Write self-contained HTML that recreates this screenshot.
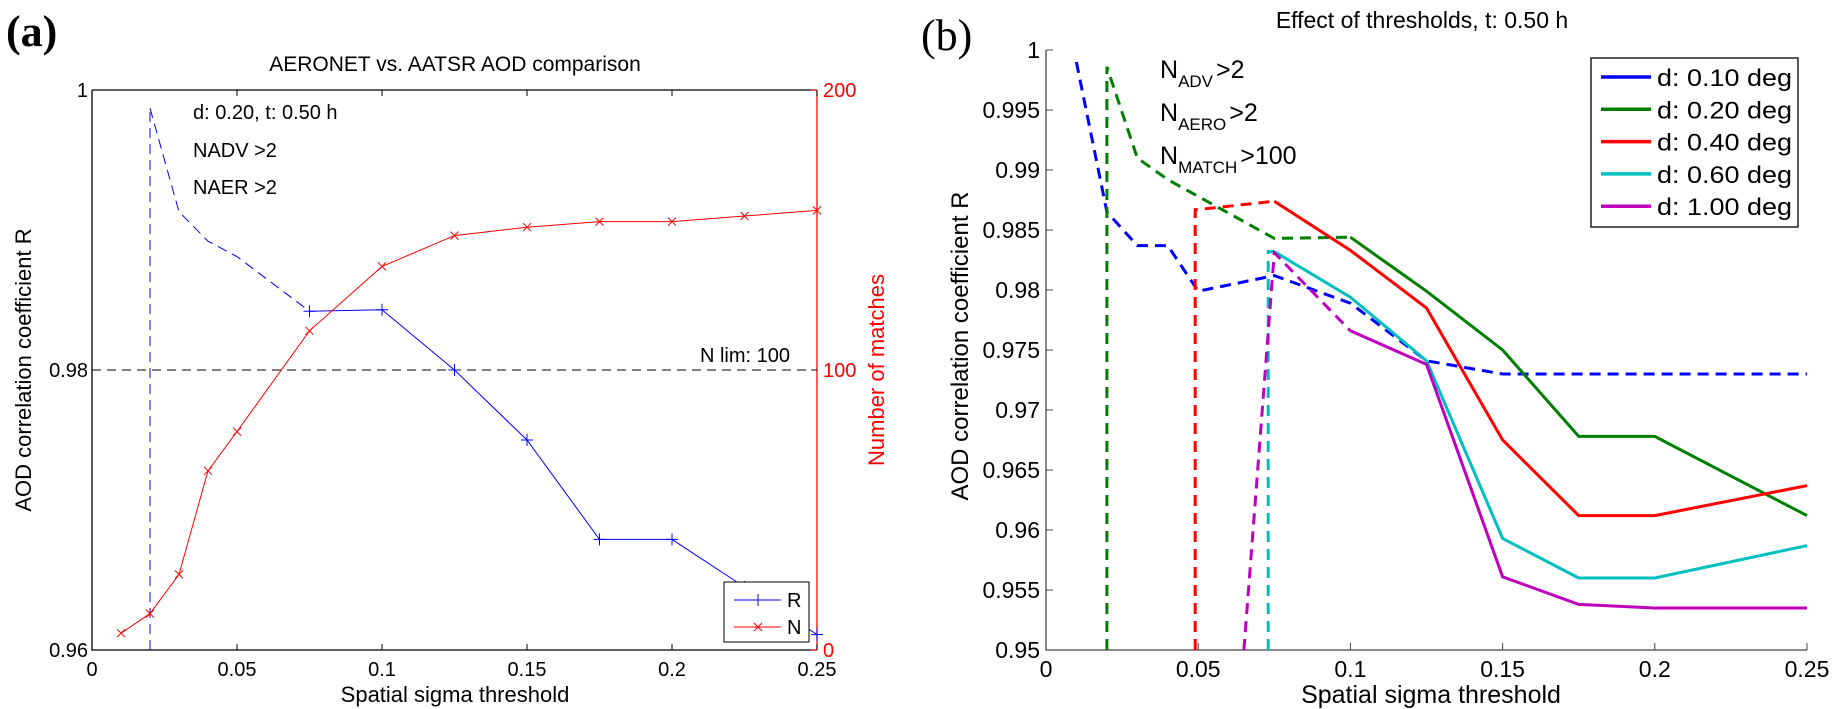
<!DOCTYPE html>
<html><head><meta charset="utf-8"><style>
html,body{margin:0;padding:0;background:#fff;}
svg{display:block;font-family:"Liberation Sans",sans-serif;}
</style></head><body>
<svg id="fig" width="1835" height="709" viewBox="0 0 1835 709" xmlns="http://www.w3.org/2000/svg">
<g id="pa"></g>
<g id="pb"></g>
</svg>
<script>
// ---- Panel (a) data ----
const aX = [0.01,0.02,0.03,0.04,0.05,0.075,0.1,0.125,0.15,0.175,0.2,0.225,0.25];
const aRdash = [null,0.9987,0.9913,0.9892,0.9881,0.9842,null,null,null,null,null,null,null];
const aRsolid = [null,null,null,null,null,0.9842,0.9843,0.9800,0.9750,0.9679,0.9679,0.9645,0.9611];
const aN = [6,13,27,64,78,114,137,148,151,153,153,155,157];
const aXTicks = [0,0.05,0.1,0.15,0.2,0.25];
const aXTickLabels = ["0","0.05","0.1","0.15","0.2","0.25"];
const aYTicks = [0.96,0.98,1];
const aYTickLabels = ["0.96","0.98","1"];
const aNTicks = [0,100,200];
const aNTickLabels = ["0","100","200"];
const aVertX = 0.02;
const aNlim = 100;

// ---- Panel (b) data ----
const bX = [0.01,0.02,0.03,0.04,0.05,0.075,0.1,0.125,0.15,0.175,0.2,0.25];
const bNames = ["d: 0.10 deg","d: 0.20 deg","d: 0.40 deg","d: 0.60 deg","d: 1.00 deg"];
const bD010 = [0.9990,0.9865,0.9837,0.9837,0.9799,0.9812,0.9789,0.9741,0.9730,0.9730,0.9730,0.9730];
const bD020 = [null,0.9986,0.9910,0.9892,0.9878,0.9843,0.9844,0.9799,0.9750,0.9678,0.9678,0.9612];
const bD040 = [null,null,null,null,0.9867,0.9874,0.9833,0.9785,0.9675,0.9612,0.9612,0.9637];
const bD060 = [null,null,null,null,null,0.9832,0.9794,0.9741,0.9593,0.9560,0.9560,0.9587];
const bD100 = [null,null,null,null,null,0.9831,0.9766,0.9738,0.9561,0.9538,0.9535,0.9535];
// x position where series first appears from bottom axis
const bStartX = [null,0.02,0.049,0.073,0.065];
// whether the rise from bottom is vertical (true) or diagonal (false)
const bVertical = [false,true,true,true,false];
// number of leading points drawn dashed (N_MATCH <= 100)
const bDashCount = [12,6,2,1,2];
const bXTicks = [0,0.05,0.1,0.15,0.2,0.25];
const bXTickLabels = ["0","0.05","0.1","0.15","0.2","0.25"];
const bYTicks = [0.95,0.955,0.96,0.965,0.97,0.975,0.98,0.985,0.99,0.995,1];
const bYTickLabels = ["0.95","0.955","0.96","0.965","0.97","0.975","0.98","0.985","0.99","0.995","1"];
const bColors = ["#0000ff","#007f00","#ff0000","#00bfbf","#bf00bf"];

const NS="http://www.w3.org/2000/svg";
function mk(parent,tag,attrs,text){const e=document.createElementNS(NS,tag);for(const k in attrs)e.setAttribute(k,attrs[k]);if(text!==undefined)e.textContent=text;parent.appendChild(e);return e;}

// ===== Panel A =====
const pa=document.getElementById('pa');
const aL=92,aR=817,aT=90,aB=650;
const ax=v=>aL+(v-0)/0.25*(aR-aL);
const ay=v=>aB-(v-0.96)/0.04*(aB-aT);
const an=v=>aB-v/200*(aB-aT);

let t=mk(pa,'text',{x:6,y:46,'font-family':'Liberation Serif, serif','font-size':44,'font-weight':'bold'},'(a)');


t=mk(pa,'text',{x:455,y:71,'font-size':21,'text-anchor':'middle'},'AERONET vs. AATSR AOD comparison');



let box=mk(pa,'path',{d:`M${aL},${aT}H${aR}M${aL},${aT}V${aB}H${aR}`,stroke:'#000','stroke-width':1.3,fill:'none'});


let rax=mk(pa,'line',{x1:aR,y1:aT,x2:aR,y2:aB,stroke:'#ff0000','stroke-width':1.3});



aXTicks.forEach((v,i)=>{
  mk(pa,'line',{x1:ax(v),y1:aB,x2:ax(v),y2:aB-6,stroke:'#000'});
  mk(pa,'line',{x1:ax(v),y1:aT,x2:ax(v),y2:aT+6,stroke:'#000'});
  const l=mk(pa,'text',{x:ax(v),y:676,'font-size':20,'text-anchor':'middle'},aXTickLabels[i]);
  
  
});
aYTicks.forEach((v,i)=>{
  mk(pa,'line',{x1:aL,y1:ay(v),x2:aL+6,y2:ay(v),stroke:'#000'});
  const l=mk(pa,'text',{x:aL-4,y:ay(v)+7,'font-size':20,'text-anchor':'end'},aYTickLabels[i]);
  
  
});
aNTicks.forEach((v,i)=>{
  mk(pa,'line',{x1:aR,y1:an(v),x2:aR-6,y2:an(v),stroke:'#ff0000'});
  const l=mk(pa,'text',{x:aR+6,y:an(v)+7,'font-size':20,fill:'#ff0000'},aNTickLabels[i]);
  
  
});
t=mk(pa,'text',{x:455,y:702,'font-size':22,'text-anchor':'middle'},'Spatial sigma threshold');


t=mk(pa,'text',{x:0,y:0,'font-size':22,'text-anchor':'middle',transform:`translate(31,370) rotate(-90)`},'AOD correlation coefficient R');


t=mk(pa,'text',{x:0,y:0,'font-size':22,'text-anchor':'middle',fill:'#ff0000',transform:`translate(884,370) rotate(-90)`},'Number of matches');



let nl=mk(pa,'line',{x1:aL,y1:an(aNlim),x2:aR,y2:an(aNlim),stroke:'#000','stroke-dasharray':'9,6','stroke-width':1});


t=mk(pa,'text',{x:790,y:362,'font-size':20,'text-anchor':'end'},'N lim: '+aNlim);



[['d: 0.20, t: 0.50 h',119],['NADV >2',157],['NAER >2',194]].forEach(([s,y])=>{
  const e=mk(pa,'text',{x:193,y:y,'font-size':20},s);
  
  
});

let vl=mk(pa,'line',{x1:ax(aVertX),y1:aB,x2:ax(aVertX),y2:ay(aRdash[1]),stroke:'#0000ff','stroke-dasharray':'10,6','stroke-width':1});


function pathFrom(xs,ys,fx,fy){let d='';xs.forEach((x,i)=>{if(ys[i]==null)return;d+=(d?'L':'M')+fx(x).toFixed(1)+','+fy(ys[i]).toFixed(1);});return d;}
let rd=mk(pa,'path',{d:pathFrom(aX,aRdash,ax,ay),stroke:'#0000ff','stroke-dasharray':'10,6',fill:'none','stroke-width':1});


let rs=mk(pa,'path',{d:pathFrom(aX,aRsolid,ax,ay),stroke:'#0000ff',fill:'none','stroke-width':1});


aX.forEach((x,i)=>{const y=aRsolid[i];if(y==null)return;const cx=ax(x),cy=ay(y);
  const m=mk(pa,'path',{d:`M${cx-6},${cy}H${cx+6}M${cx},${cy-6}V${cy+6}`,stroke:'#0000ff','stroke-width':1});
  
  });
let np=mk(pa,'path',{d:pathFrom(aX,aN,ax,an),stroke:'#ff0000',fill:'none','stroke-width':1});


aX.forEach((x,i)=>{const cx=ax(x),cy=an(aN[i]);
  const m=mk(pa,'path',{d:`M${cx-4},${cy-4}L${cx+4},${cy+4}M${cx-4},${cy+4}L${cx+4},${cy-4}`,stroke:'#ff0000','stroke-width':1});
  
  });

const lga=mk(pa,'g',{});


mk(lga,'rect',{x:724,y:582,width:85,height:60,fill:'#fff',stroke:'#000','stroke-width':1});
mk(lga,'line',{x1:734,y1:600,x2:781,y2:600,stroke:'#0000ff'});
mk(lga,'path',{d:'M752,600H764M758,594V606',stroke:'#0000ff'});
t=mk(lga,'text',{x:787,y:607,'font-size':20},'R');


mk(lga,'line',{x1:734,y1:627,x2:781,y2:627,stroke:'#ff0000'});
mk(lga,'path',{d:'M754,623L762,631M754,631L762,623',stroke:'#ff0000'});
t=mk(lga,'text',{x:787,y:634,'font-size':20},'N');



// ===== Panel B =====
const pb=document.getElementById('pb');
const bL=1046,bR=1807,bT=50,bB=650;
const bx=v=>bL+v/0.25*(bR-bL);
const by=v=>bB-(v-0.95)/0.05*(bB-bT);
t=mk(pb,'text',{x:921,y:50,'font-family':'Liberation Serif, serif','font-size':44},'(b)');


t=mk(pb,'text',{x:1422,y:28,'font-size':23,'text-anchor':'middle'},'Effect of thresholds, t: 0.50 h');


let bax=mk(pb,'path',{d:`M${bL},${bT}V${bB}H${bR}`,stroke:'#444','stroke-width':1.3,fill:'none'});


bXTicks.forEach((v,i)=>{
  mk(pb,'line',{x1:bx(v),y1:bB,x2:bx(v),y2:bB-7,stroke:'#444'});
  const l=mk(pb,'text',{x:bx(v),y:677,'font-size':23,'text-anchor':'middle'},bXTickLabels[i]);
  
  
});
bYTicks.forEach((v,i)=>{
  mk(pb,'line',{x1:bL,y1:by(v),x2:bL+7,y2:by(v),stroke:'#444'});
  const l=mk(pb,'text',{x:bL-6,y:by(v)+8,'font-size':23,'text-anchor':'end'},bYTickLabels[i]);
  
  
});
t=mk(pb,'text',{x:1431,y:703,'font-size':25,'text-anchor':'middle'},'Spatial sigma threshold');


t=mk(pb,'text',{x:0,y:0,'font-size':24,'text-anchor':'middle',transform:`translate(968,346) rotate(-90)`},'AOD correlation coefficient R');


[['ADV','>2',78],['AERO','>2',121],['MATCH','>100',164]].forEach(([sub,rest,y])=>{
  const e=mk(pb,'text',{x:1160,y:y,'font-size':25});
  
  
  mk(e,'tspan',{},'N');
  mk(e,'tspan',{dy:9,'font-size':17},sub);
  mk(e,'tspan',{dy:-9,dx:3},rest);
});
const bSeries=[bD010,bD020,bD040,bD060,bD100];
bSeries.forEach((ys,si)=>{
  const g=mk(pb,'g',{});
  
  
  const first=ys.findIndex(v=>v!=null);
  let dpts=[];
  if(bStartX[si]!=null){
    dpts.push([bx(bStartX[si]),bB]);
    if(bVertical[si]) dpts.push([bx(bStartX[si]),by(ys[first])]);
  }
  for(let i=first;i<first+bDashCount[si]&&i<ys.length;i++) dpts.push([bx(bX[i]),by(ys[i])]);
  const lastDash=first+bDashCount[si]-1;
  const dd='M'+dpts.map(p=>p[0].toFixed(1)+','+p[1].toFixed(1)).join('L');
  mk(g,'path',{d:dd,stroke:bColors[si],'stroke-width':3,fill:'none','stroke-dasharray':'11,7'});
  let sp=[];
  for(let i=lastDash;i<ys.length;i++) if(ys[i]!=null) sp.push([bx(bX[i]),by(ys[i])]);
  if(bDashCount[si]<ys.length-first && sp.length>1)
    mk(g,'path',{d:'M'+sp.map(p=>p[0].toFixed(1)+','+p[1].toFixed(1)).join('L'),stroke:bColors[si],'stroke-width':3,fill:'none'});
});
const lgb=mk(pb,'g',{});


mk(lgb,'rect',{x:1591,y:58,width:207,height:169,fill:'#fff',stroke:'#000','stroke-width':1.3});
bNames.forEach((n,i)=>{
  const y=77+i*32.3;
  mk(lgb,'line',{x1:1601,y1:y,x2:1651,y2:y,stroke:bColors[i],'stroke-width':3.5});
  const e=mk(lgb,'text',{x:1657,y:y+9,'font-size':24,textLength:135,lengthAdjust:'spacingAndGlyphs'},n);
  
  
});
</script>
</body></html>
